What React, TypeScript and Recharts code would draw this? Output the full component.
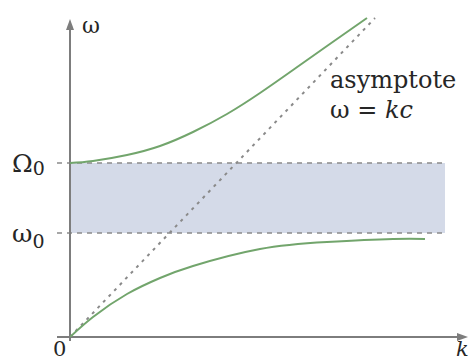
import {
  ComposedChart,
  Line,
  XAxis,
  YAxis,
  ReferenceArea,
  ReferenceLine,
  ReferenceDot,
} from "recharts";

// units: k and omega in arbitrary units
const upperK = [0, 0.23, 0.57, 0.9, 1.23, 1.57, 1.9, 2.23, 2.57, 2.97];
const upperW = [1.74, 1.76, 1.82, 1.91, 2.05, 2.23, 2.44, 2.67, 2.91, 3.19];
const lowerK = [0, 0.23, 0.57, 0.9, 1.23, 1.9, 2.57, 3.23, 3.55];
const lowerW = [0, 0.2, 0.43, 0.59, 0.71, 0.88, 0.95, 0.98, 0.98];
const asymK = [0, 3.05];
const asymW = [0, 3.19];
const omega0 = 1.04;
const bigOmega0 = 1.74;
const bandEnd = 3.75;
const kMax = 3.95;
const wMax = 3.22;
const wArrow = 3.15;

const upper = upperK.map((k, i) => ({ k, w: upperW[i] }));
const lower = lowerK.map((k, i) => ({ k, w: lowerW[i] }));
const asym = asymK.map((k, i) => ({ k, w: asymW[i] }));

const SERIF = "DejaVu Serif";
const GREEN = "#72a56c";
const AXIS = "#7d7d7d";
const DASH = "#8a8a8a";
const INK = "#262626";

const YTick = ({ y, payload }: { y: number; payload: { value: number } }) => {
  const big = payload.value === bigOmega0;
  return (
    <text x={12} y={y + 9} fontFamily={SERIF} fontSize={25} fill={INK}>
      {big ? "Ω" : "ω"}
      <tspan fontSize={19} dy={big ? 3 : 6}>
        0
      </tspan>
    </text>
  );
};

const XTick = ({ x, payload }: { x: number; payload: { value: number } }) => {
  if (payload.value === 0) {
    return (
      <text x={x - 17} y={356} fontFamily={SERIF} fontSize={21} fill={INK}>
        0
      </text>
    );
  }
  return (
    <text x={x - 9} y={356} fontFamily={SERIF} fontStyle="italic" fontSize={21} fill={INK}>
      k
    </text>
  );
};

export default function App() {
  return (
    <div style={{ position: "absolute", left: 0, top: 0, background: "#fff" }}>
      <ComposedChart
        width={473}
        height={364}
        margin={{ top: 15, right: 8, bottom: 26, left: 69 }}
      >
        <XAxis
          dataKey="k"
          type="number"
          domain={[0, kMax]}
          allowDataOverflow
          ticks={[0, kMax]}
          interval={0}
          tick={XTick}
          axisLine={false}
          tickLine={false}
          height={1}
        />
        <YAxis
          dataKey="w"
          type="number"
          domain={[0, wMax]}
          allowDataOverflow
          ticks={[omega0, bigOmega0]}
          interval={0}
          tick={YTick}
          axisLine={false}
          tickLine={false}
          width={1}
        />
        <ReferenceArea
          x1={0}
          x2={bandEnd}
          y1={omega0}
          y2={bigOmega0}
          fill="#d4dae8"
          fillOpacity={1}
          stroke="none"
        />
        <ReferenceLine
          segment={[{ x: -0.13, y: omega0 }, { x: bandEnd, y: omega0 }]}
          stroke={DASH}
          strokeWidth={1.6}
          strokeDasharray="5 5"
          ifOverflow="visible"
        />
        <ReferenceLine
          segment={[{ x: -0.13, y: bigOmega0 }, { x: bandEnd, y: bigOmega0 }]}
          stroke={DASH}
          strokeWidth={1.6}
          strokeDasharray="5 5"
          ifOverflow="visible"
        />
        <ReferenceLine
          segment={[{ x: -0.13, y: 0 }, { x: kMax, y: 0 }]}
          stroke={AXIS}
          strokeWidth={2}
          ifOverflow="visible"
        />
        <ReferenceLine
          segment={[{ x: 0, y: -0.04 }, { x: 0, y: wArrow }]}
          stroke={AXIS}
          strokeWidth={2}
          ifOverflow="visible"
        />
        <Line
          data={asym}
          dataKey="w"
          type="linear"
          stroke={DASH}
          strokeWidth={2}
          strokeDasharray="3 5"
          dot={false}
          isAnimationActive={false}
        />
        <Line
          data={upper}
          dataKey="w"
          type="natural"
          stroke={GREEN}
          strokeWidth={2}
          dot={false}
          isAnimationActive={false}
        />
        <Line
          data={lower}
          dataKey="w"
          type="natural"
          stroke={GREEN}
          strokeWidth={2}
          dot={false}
          isAnimationActive={false}
        />
        <ReferenceDot
          x={0}
          y={wArrow}
          r={0}
          ifOverflow="visible"
          shape={(p: { cx: number; cy: number }) => (
            <g>
              <polygon
                points={`${p.cx},${p.cy - 3} ${p.cx - 4},${p.cy + 8} ${p.cx + 4},${p.cy + 8}`}
                fill={AXIS}
              />
              <text x={p.cx + 12} y={p.cy + 11} fontFamily={SERIF} fontSize={22} fill={INK}>
                ω
              </text>
            </g>
          )}
        />
        <ReferenceDot
          x={kMax}
          y={0}
          r={0}
          ifOverflow="visible"
          shape={(p: { cx: number; cy: number }) => (
            <polygon
              points={`${p.cx + 3},${p.cy} ${p.cx - 8},${p.cy - 4} ${p.cx - 8},${p.cy + 4}`}
              fill={AXIS}
            />
          )}
        />
        <ReferenceDot
          x={2.6}
          y={2.49}
          r={0}
          ifOverflow="visible"
          shape={(p: { cx: number; cy: number }) => (
            <text x={p.cx} y={p.cy} fontFamily={SERIF} fontSize={24} fill={INK}>
              <tspan x={p.cx}>asymptote</tspan>
              <tspan x={p.cx} dy={30}>
                {"ω = "}
                <tspan fontStyle="italic">kc</tspan>
              </tspan>
            </text>
          )}
        />
      </ComposedChart>
    </div>
  );
}
